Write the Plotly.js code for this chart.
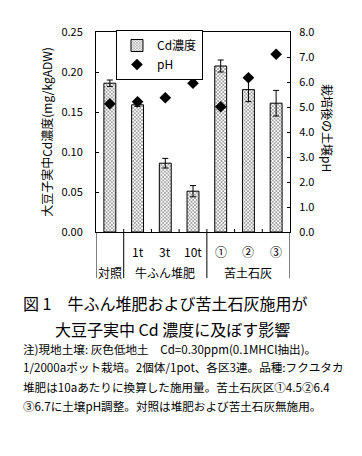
<!DOCTYPE html>
<html><head><meta charset="utf-8">
<script src="https://cdn.plot.ly/plotly-3.0.1.min.js"></script>
<style>body{margin:0;background:#fff}#c{width:362px;height:456px}</style>
</head><body><div id="c"></div>
<script>
const subLabels = ["", "1t", "3t", "10t", "①", "②", "③"];
const groupNames = ["対照", "牛ふん堆肥", "苦土石灰"];
const groupSizes = [1, 3, 3];
const cdValues = [0.186, 0.159, 0.086, 0.051, 0.2075, 0.178, 0.161];
const cdErrors = [0.004, 0.002, 0.006, 0.007, 0.0075, 0.015, 0.016];
const phValues = [5.13, 5.21, 5.37, 5.95, 5.01, 6.17, 7.11];
const leftTicks = [0, 0.05, 0.10, 0.15, 0.20, 0.25];
const rightTicks = [0, 1, 2, 3, 4, 5, 6, 7, 8];
const captionTitle = ["図 1　牛ふん堆肥および苦土石灰施用が", "大豆子実中 Cd 濃度に及ぼす影響"];
const captionNotes = [
  "注)現地土壌: 灰色低地土　Cd=0.30ppm(0.1MHCl抽出)。",
  "1/2000aポット栽培。2個体/1pot、各区3連。品種:フクユタカ",
  "堆肥は10aあたりに換算した施用量。苦土石灰区①4.5②6.4",
  "③6.7に土壌pH調整。対照は堆肥および苦土石灰無施用。"
];

const xs = subLabels.map((_, i) => i);
const FONT = "Noto Sans CJK JP";

const traces = [
  {
    type: "bar", x: xs, y: cdValues, name: "Cd濃度", width: 0.43,
    marker: {color: "#fff", line: {color: "#000", width: 1},
      pattern: {shape: "x", size: 2.5, solidity: 0.35, fgcolor: "#555", bgcolor: "#fff"}},
    error_y: {type: "data", array: cdErrors, visible: true, color: "#000", thickness: 1, width: 3}
  },
  {
    type: "scatter", mode: "markers", x: xs, y: phValues, yaxis: "y2", name: "pH",
    marker: {symbol: "diamond", size: 9, color: "#000"}
  }
];

const shapes = [];
const annotations = [];
let start = 0;
const bounds = [-0.5];
groupSizes.forEach((n, g) => {
  const end = start + n;
  bounds.push(end - 0.5);
  annotations.push({xref: "x", yref: "paper", x: (start + end - 1) / 2, y: 0, yanchor: "middle",
    yshift: -40, text: groupNames[g], showarrow: false, font: {family: FONT, size: 12, color: "#000"}});
  start = end;
});
bounds.forEach(b => shapes.push({type: "line", xref: "x", yref: "paper", x0: b, x1: b, y0: 0, y1: -0.23,
  line: {color: "#000", width: 1}}));
for (let i = 0; i < xs.length - 1; i++) {
  shapes.push({type: "line", xref: "x", yref: "paper", x0: i + 0.5, x1: i + 0.5, y0: 0, y1: 0.015,
    line: {color: "#000", width: 1}});
}
subLabels.forEach((s, i) => {
  if (s) annotations.push({xref: "x", yref: "paper", x: i, y: 0, yanchor: "middle", yshift: -19,
    text: s, showarrow: false, font: {family: FONT, size: 12, color: "#000"}});
});
annotations.push({xref: "paper", yref: "paper", x: 1, xanchor: "center", xshift: 38, y: 0.52, yanchor: "middle",
  text: "栽培後の土壌pH", textangle: 90, showarrow: false, font: {family: FONT, size: 12, color: "#000"}});
annotations.push({xref: "paper", yref: "paper", x: -0.387, xanchor: "left", y: -0.355, yanchor: "middle",
  text: captionTitle[0], showarrow: false, font: {family: FONT, size: 16, color: "#000"}});
annotations.push({xref: "paper", yref: "paper", x: -0.222, xanchor: "left", y: -0.485, yanchor: "middle",
  text: captionTitle[1], showarrow: false, font: {family: FONT, size: 16, color: "#000"}});
const noteY = [-0.585, -0.675, -0.775, -0.87];
captionNotes.forEach((t, i) => annotations.push({xref: "paper", yref: "paper", x: -0.387, xanchor: "left",
  y: noteY[i], yanchor: "middle", text: t, showarrow: false, font: {family: FONT, size: 11.6, color: "#000"}}));

const layout = {
  width: 362, height: 456,
  margin: {l: 96, r: 72, t: 32, b: 224},
  paper_bgcolor: "#fff", plot_bgcolor: "#fff",
  showlegend: true,
  legend: {x: 0.103, y: 1.01, xanchor: "left", yanchor: "top", bordercolor: "#000", borderwidth: 1,
    bgcolor: "#fff", font: {family: FONT, size: 12, color: "#000"}, itemwidth: 30, tracegroupgap: 4},
  xaxis: {range: [-0.5, 6.5], showline: true, linecolor: "#000", linewidth: 1, mirror: true,
    showgrid: false, zeroline: false, showticklabels: false, ticks: ""},
  yaxis: {range: [0, 0.25], tickvals: leftTicks, tickformat: ".2f", showline: true, linecolor: "#000",
    linewidth: 1, ticks: "inside", ticklen: 3, tickcolor: "#000", showgrid: false, zeroline: false,
    ticklabelstandoff: 10,
    tickfont: {family: FONT, size: 11, color: "#000"},
    title: {text: "大豆子実中Cd濃度(mg/kgADW)", font: {family: FONT, size: 12, color: "#000"}, standoff: 6}},
  yaxis2: {range: [0, 8], tickvals: rightTicks, tickformat: ".1f", overlaying: "y", side: "right",
    showline: true, linecolor: "#000", linewidth: 1, ticks: "inside", ticklen: 3, tickcolor: "#000",
    showgrid: false, zeroline: false, ticklabelstandoff: 6,
    tickfont: {family: FONT, size: 11, color: "#000"}},
  shapes: shapes, annotations: annotations,
  font: {family: FONT, color: "#000"}
};
Plotly.newPlot("c", traces, layout, {displayModeBar: false, staticPlot: true});
</script></body></html>
